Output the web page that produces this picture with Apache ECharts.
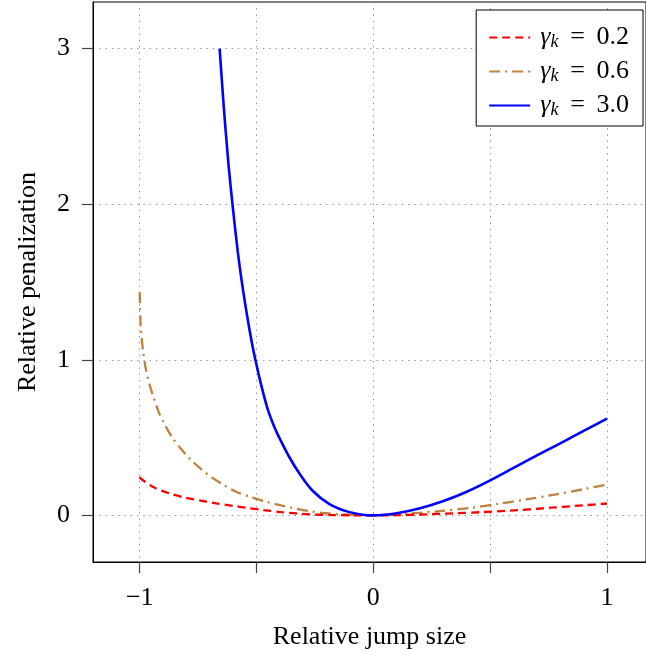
<!DOCTYPE html>
<html>
<head>
<meta charset="utf-8">
<script src="https://cdn.jsdelivr.net/npm/echarts@6/dist/echarts.min.js"></script>
<style>html,body{margin:0;padding:0;background:#fff}#c{width:646px;height:655px}</style>
</head>
<body>
<div id="c"></div>
<script>
// Data
const seriesNames = ['0.2', '0.6', '3.0'];
const redX = [-1, -0.996, -0.936, -0.872, -0.809, -0.74, -0.674, -0.6, -0.545, -0.47, -0.395, -0.33, -0.267, -0.18, -0.09, 0, 0.1, 0.2, 0.34, 0.468, 0.625, 0.761, 0.896, 1];
const redY = [0.248, 0.237, 0.177, 0.141, 0.115, 0.095, 0.077, 0.061, 0.049, 0.034, 0.021, 0.012, 0.006, 0.002, 0.0005, 0, 0.001, 0.005, 0.013, 0.021, 0.034, 0.049, 0.064, 0.076];
const brownX = [-1, -0.996, -0.986, -0.974, -0.957, -0.94, -0.919, -0.893, -0.858, -0.822, -0.78, -0.737, -0.692, -0.64, -0.588, -0.52, -0.46, -0.39, -0.338, -0.27, -0.217, -0.14, -0.07, 0, 0.07, 0.154, 0.283, 0.411, 0.532, 0.654, 0.782, 0.903, 1];
const brownY = [1.434, 1.22, 1.06, 0.942, 0.835, 0.756, 0.665, 0.583, 0.494, 0.425, 0.355, 0.297, 0.244, 0.195, 0.152, 0.115, 0.088, 0.062, 0.045, 0.026, 0.015, 0.006, 0.0015, 0, 0.002, 0.011, 0.027, 0.047, 0.073, 0.102, 0.135, 0.169, 0.198];
const blueX = [-0.658, -0.64, -0.62, -0.603, -0.58, -0.56, -0.54, -0.52, -0.505, -0.48, -0.45, -0.421, -0.403, -0.36, -0.317, -0.26, -0.188, -0.117, -0.046, 0, 0.1, 0.2, 0.3, 0.4, 0.5, 0.6, 0.7, 0.8, 0.9, 1];
const blueY = [3.0, 2.62, 2.255, 2.0, 1.69, 1.47, 1.28, 1.11, 1.0, 0.837, 0.671, 0.558, 0.5, 0.375, 0.27, 0.158, 0.072, 0.027, 0.004, 0, 0.013, 0.045, 0.092, 0.152, 0.225, 0.305, 0.385, 0.463, 0.543, 0.622];
const xTicks = [-1, -0.5, 0, 0.5, 1];
const xTickLabels = ['\u22121', '', '0', '', '1'];
const yTicks = [0, 1, 2, 3];
const yTickLabels = ['0', '1', '2', '3'];

const pairs = (xs, ys) => xs.map((x, i) => [x, ys[i]]);
const font = 'Liberation Serif';
const fs = 26;

const chart = echarts.init(document.getElementById('c'), null, {renderer: 'canvas'});
const gridLine = {show: true, lineStyle: {color: '#8a8a8a', width: 1, type: [1.3, 5]}};
chart.setOption({
  animation: false,
  backgroundColor: '#fff',
  textStyle: {fontFamily: font},
  grid: {left: 93, top: 2, right: 0, bottom: 92, show: true, borderColor: '#000', borderWidth: 1, containLabel: false},
  xAxis: {
    type: 'value', min: -1.2, max: 1.167,
    name: 'Relative jump size', nameLocation: 'middle', nameGap: 62,
    nameTextStyle: {fontFamily: font, fontSize: fs, color: '#000'},
    axisLine: {show: true, onZero: false, lineStyle: {color: '#000', width: 1}},
    axisTick: {show: true, length: 11, customValues: xTicks, lineStyle: {color: '#444', width: 1.2}},
    axisLabel: {customValues: xTicks, margin: 23, fontFamily: font, fontSize: fs, color: '#000',
      formatter: v => { const i = xTicks.findIndex(t => Math.abs(t - v) < 1e-9); return i >= 0 ? xTickLabels[i] : ''; }},
    splitLine: gridLine
  },
  yAxis: {
    type: 'value', min: -0.3, max: 3.3,
    name: 'Relative penalization', nameLocation: 'middle', nameGap: 52, nameRotate: 90,
    nameTextStyle: {fontFamily: font, fontSize: fs, color: '#000'},
    axisLine: {show: true, onZero: false, lineStyle: {color: '#000', width: 1}},
    axisTick: {show: true, length: 11, customValues: yTicks, lineStyle: {color: '#444', width: 1.2}},
    axisLabel: {customValues: yTicks, margin: 23, fontFamily: font, fontSize: fs, color: '#000',
      formatter: v => { const i = yTicks.findIndex(t => Math.abs(t - v) < 1e-9); return i >= 0 ? yTickLabels[i] : ''; }},
    splitLine: gridLine
  },
  legend: {
    orient: 'vertical', right: 3, top: 10,
    backgroundColor: '#fff', borderColor: '#000', borderWidth: 1,
    padding: [14, 14, 7, 12], itemGap: 7, itemWidth: 41, itemHeight: 14,
    itemStyle: {opacity: 0},
    data: seriesNames.map(n => ({name: n})),
    formatter: n => '{g|\u03b3}{k|k}{t| \u2009=\u2009 ' + n + '}',
    textStyle: {
      color: '#000', fontFamily: font, fontSize: fs, padding: [0, 0, 0, 5],
      rich: {
        g: {fontFamily: font, fontStyle: 'italic', fontSize: fs, lineHeight: 27, verticalAlign: 'middle'},
        k: {fontFamily: font, fontStyle: 'italic', fontSize: 18, lineHeight: 27, verticalAlign: 'bottom', padding: [9, 0, 0, 0]},
        t: {fontFamily: font, fontSize: fs, lineHeight: 27, verticalAlign: 'middle'}
      }
    }
  },
  series: [
    {name: seriesNames[0], type: 'line', data: pairs(redX, redY), smooth: 0.3, symbol: 'none', clip: true,
     lineStyle: {color: '#ff0000', width: 2.3, type: [8, 5]}, itemStyle: {color: '#ff0000'}, z: 3},
    {name: seriesNames[1], type: 'line', data: pairs(brownX, brownY), smooth: 0.3, symbol: 'none', clip: true,
     lineStyle: {color: '#bf8040', width: 2.3, type: [11, 5, 2, 5]}, itemStyle: {color: '#bf8040'}, z: 2},
    {name: seriesNames[2], type: 'line', data: pairs(blueX, blueY), smooth: 0.3, symbol: 'none', clip: true,
     lineStyle: {color: '#0000ff', width: 2.6}, itemStyle: {color: '#0000ff'}, z: 4}
  ]
});
</script>
</body>
</html>
